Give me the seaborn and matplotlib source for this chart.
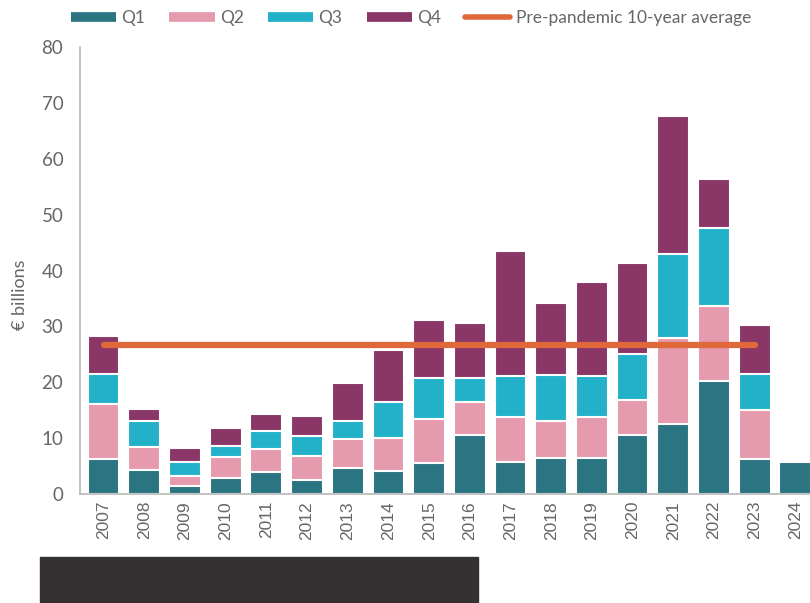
import numpy as np
import pandas as pd
import matplotlib
matplotlib.use("Agg")
import matplotlib.pyplot as plt
import seaborn as sns
from matplotlib.lines import Line2D
from matplotlib.patches import Rectangle

# data (EUR billions per quarter)
years = [str(y) for y in range(2007, 2025)]
q1 = [6.3, 4.3, 1.5, 2.8, 3.9, 2.5, 4.6, 4.2, 5.5, 10.6, 5.8, 6.5, 6.4, 10.6, 12.5, 20.3, 6.3, 5.8]
q2 = [9.8, 4.2, 1.7, 3.9, 4.2, 4.3, 5.2, 5.8, 8.0, 5.9, 8.0, 6.6, 7.3, 6.2, 15.5, 13.3, 8.8, 0]
q3 = [5.4, 4.5, 2.6, 1.9, 3.1, 3.6, 3.3, 6.4, 7.2, 4.3, 7.3, 8.2, 7.5, 8.3, 14.9, 14.0, 6.3, 0]
q4 = [6.8, 2.3, 2.4, 3.3, 3.1, 3.6, 6.7, 9.4, 10.4, 9.8, 22.4, 12.9, 16.7, 16.2, 24.7, 8.8, 8.8, 0]
avg_value = 26.7
avg_years = years[:17]

colors = {"Q1": "#2A7581", "Q2": "#E59AAD", "Q3": "#22B1C9", "Q4": "#8A3667"}
line_color = "#E0693B"
text_color = "#666666"

df = pd.DataFrame({"year": years, "Q1": q1, "Q2": q2, "Q3": q3, "Q4": q4})
df["c1"] = df["Q1"]
df["c2"] = df["c1"] + df["Q2"]
df["c3"] = df["c2"] + df["Q3"]
df["c4"] = df["c3"] + df["Q4"]

sns.set_style("white")
plt.rcParams["font.family"] = ["Lato", "DejaVu Sans"]

fig = plt.figure(figsize=(8.1, 6.03), dpi=100)
ax = fig.add_axes([80 / 810, 109 / 603, 1 - 80 / 810, 447 / 603])

# stacked bars: draw cumulative totals from the top down
for col, q in [("c4", "Q4"), ("c3", "Q3"), ("c2", "Q2"), ("c1", "Q1")]:
    sns.barplot(data=df, x="year", y=col, color=colors[q], width=0.78,
                edgecolor="white", linewidth=1.5, saturation=1, ax=ax)

ax.plot(avg_years, [avg_value] * len(avg_years), color=line_color, lw=4.5,
        solid_capstyle="round", zorder=5)

ax.set_ylim(0, 80)
ax.set_xlim(-0.58, 17.36)
ax.set_yticks(range(0, 81, 10))
ax.set_xlabel("")
ax.set_ylabel("€ billions", fontsize=13, color=text_color)
ax.yaxis.set_label_coords(-0.071, 0.445)
ax.tick_params(axis="y", length=0, pad=12, labelsize=13.5, labelcolor=text_color)
ax.tick_params(axis="x", length=0, pad=5, labelsize=12.5, labelcolor=text_color,
               labelrotation=90)
for lab in ax.get_xticklabels():
    lab.set_fontfamily(["Liberation Sans", "DejaVu Sans"])

sns.despine(ax=ax, top=True, right=True)
for s in ["left", "bottom"]:
    ax.spines[s].set_color("#B8B8B8")
    ax.spines[s].set_linewidth(1.2)

handles = [Line2D([0], [0], color=colors[q], lw=7, solid_capstyle="butt") for q in ["Q1", "Q2", "Q3", "Q4"]]
handles.append(Line2D([0], [0], color=line_color, lw=4, solid_capstyle="round"))
labels = ["Q1", "Q2", "Q3", "Q4", "Pre-pandemic 10-year average"]
fig.legend(handles, labels, loc="center", bbox_to_anchor=(411 / 810, 1 - 18 / 603),
           ncol=5, frameon=False, fontsize=12.5, labelcolor=text_color,
           handlelength=2.6, handletextpad=0.3, columnspacing=1.4)

# dark box at the bottom of the image
fig.patches.append(Rectangle((40 / 810, 0), 438 / 810, 46 / 603,
                             transform=fig.transFigure, color="#353132", zorder=0))

fig.savefig("out.png", dpi=100)
